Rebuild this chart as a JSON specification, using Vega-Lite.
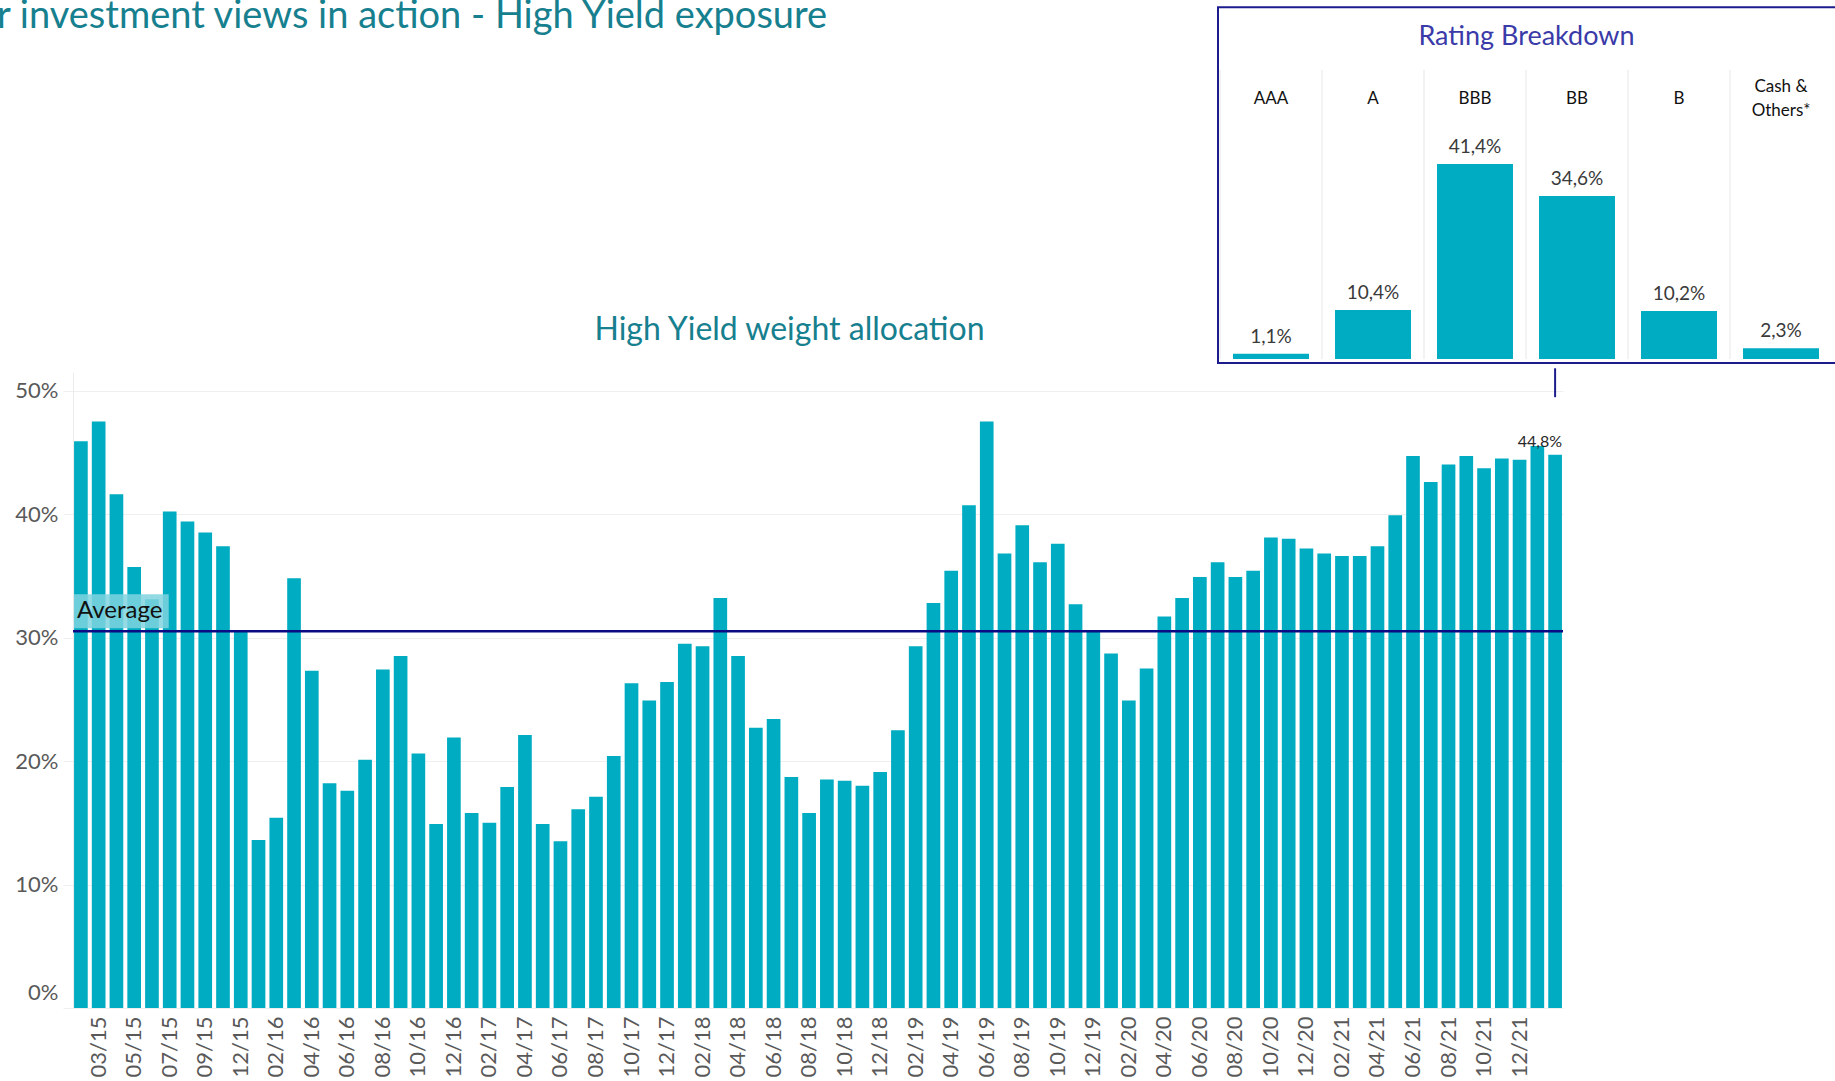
{
  "$schema": "https://vega.github.io/schema/vega-lite/v6.json",
  "width": 1490,
  "height": 636,
  "autosize": {"type": "none"},
  "padding": {"left": 73, "top": 372, "right": 272, "bottom": 73},
  "background": "white",
  "config": {
    "font": "Lato",
    "view": {"stroke": null},
    "locale": {"number": {"decimal": ",", "thousands": ".", "grouping": [3], "currency": ["", " €"]}}
  },
  "title": {
    "text": "r investment views in action - High Yield exposure",
    "anchor": "start",
    "frame": "group",
    "dx": -76,
    "offset": -30,
    "fontSize": 38,
    "fontWeight": "normal",
    "color": "#17808f"
  },
  "layer": [
    {
      "data": {"values": [
        {"m": "02/15", "v": 0.459}, {"m": "03/15", "v": 0.475}, {"m": "04/15", "v": 0.416}, {"m": "05/15", "v": 0.357},
        {"m": "06/15", "v": 0.331}, {"m": "07/15", "v": 0.402}, {"m": "08/15", "v": 0.394}, {"m": "09/15", "v": 0.385},
        {"m": "10/15", "v": 0.374}, {"m": "12/15", "v": 0.305}, {"m": "01/16", "v": 0.136}, {"m": "02/16", "v": 0.154},
        {"m": "03/16", "v": 0.348}, {"m": "04/16", "v": 0.273}, {"m": "05/16", "v": 0.182}, {"m": "06/16", "v": 0.176},
        {"m": "07/16", "v": 0.201}, {"m": "08/16", "v": 0.274}, {"m": "09/16", "v": 0.285}, {"m": "10/16", "v": 0.206},
        {"m": "11/16", "v": 0.149}, {"m": "12/16", "v": 0.219}, {"m": "01/17", "v": 0.158}, {"m": "02/17", "v": 0.150},
        {"m": "03/17", "v": 0.179}, {"m": "04/17", "v": 0.221}, {"m": "05/17", "v": 0.149}, {"m": "06/17", "v": 0.135},
        {"m": "07/17", "v": 0.161}, {"m": "08/17", "v": 0.171}, {"m": "09/17", "v": 0.204}, {"m": "10/17", "v": 0.263},
        {"m": "11/17", "v": 0.249}, {"m": "12/17", "v": 0.264}, {"m": "01/18", "v": 0.295}, {"m": "02/18", "v": 0.293},
        {"m": "03/18", "v": 0.332}, {"m": "04/18", "v": 0.285}, {"m": "05/18", "v": 0.227}, {"m": "06/18", "v": 0.234},
        {"m": "07/18", "v": 0.187}, {"m": "08/18", "v": 0.158}, {"m": "09/18", "v": 0.185}, {"m": "10/18", "v": 0.184},
        {"m": "11/18", "v": 0.180}, {"m": "12/18", "v": 0.191}, {"m": "01/19", "v": 0.225}, {"m": "02/19", "v": 0.293},
        {"m": "03/19", "v": 0.328}, {"m": "04/19", "v": 0.354}, {"m": "05/19", "v": 0.407}, {"m": "06/19", "v": 0.475},
        {"m": "07/19", "v": 0.368}, {"m": "08/19", "v": 0.391}, {"m": "09/19", "v": 0.361}, {"m": "10/19", "v": 0.376},
        {"m": "11/19", "v": 0.327}, {"m": "12/19", "v": 0.305}, {"m": "01/20", "v": 0.287}, {"m": "02/20", "v": 0.249},
        {"m": "03/20", "v": 0.275}, {"m": "04/20", "v": 0.317}, {"m": "05/20", "v": 0.332}, {"m": "06/20", "v": 0.349},
        {"m": "07/20", "v": 0.361}, {"m": "08/20", "v": 0.349}, {"m": "09/20", "v": 0.354}, {"m": "10/20", "v": 0.381},
        {"m": "11/20", "v": 0.380}, {"m": "12/20", "v": 0.372}, {"m": "01/21", "v": 0.368}, {"m": "02/21", "v": 0.366},
        {"m": "03/21", "v": 0.366}, {"m": "04/21", "v": 0.374}, {"m": "05/21", "v": 0.399}, {"m": "06/21", "v": 0.447},
        {"m": "07/21", "v": 0.426}, {"m": "08/21", "v": 0.440}, {"m": "09/21", "v": 0.447}, {"m": "10/21", "v": 0.437},
        {"m": "11/21", "v": 0.445}, {"m": "12/21", "v": 0.444}, {"m": "01/22", "v": 0.455}, {"m": "02/22", "v": 0.448}
      ]},
      "resolve": {"axis": {"x": "independent", "y": "independent"}},
      "layer": [
        {
          "mark": {"type": "bar", "color": "#00acc1"},
          "encoding": {
            "x": {
              "field": "m", "type": "nominal", "sort": null,
              "scale": {
                "domain": ["02/15","03/15","04/15","05/15","06/15","07/15","08/15","09/15","10/15","12/15",
                  "01/16","02/16","03/16","04/16","05/16","06/16","07/16","08/16","09/16","10/16","11/16","12/16",
                  "01/17","02/17","03/17","04/17","05/17","06/17","07/17","08/17","09/17","10/17","11/17","12/17",
                  "01/18","02/18","03/18","04/18","05/18","06/18","07/18","08/18","09/18","10/18","11/18","12/18",
                  "01/19","02/19","03/19","04/19","05/19","06/19","07/19","08/19","09/19","10/19","11/19","12/19",
                  "01/20","02/20","03/20","04/20","05/20","06/20","07/20","08/20","09/20","10/20","11/20","12/20",
                  "01/21","02/21","03/21","04/21","05/21","06/21","07/21","08/21","09/21","10/21","11/21","12/21",
                  "01/22","02/22"],
                "paddingInner": 0.23, "paddingOuter": 0.06
              },
              "axis": {
                "values": ["03/15","05/15","07/15","09/15","12/15","02/16","04/16","06/16","08/16","10/16","12/16",
                  "02/17","04/17","06/17","08/17","10/17","12/17","02/18","04/18","06/18","08/18","10/18","12/18",
                  "02/19","04/19","06/19","08/19","10/19","12/19","02/20","04/20","06/20","08/20","10/20","12/20",
                  "02/21","04/21","06/21","08/21","10/21","12/21"],
                "title": null, "labelAngle": -90, "labelFontSize": 22, "labelColor": "#595959",
                "labelPadding": 8, "ticks": false, "tickSize": 0, "domain": false, "grid": false, "labelOverlap": false
              }
            },
            "y": {
              "field": "v", "type": "quantitative",
              "scale": {"domain": [0, 0.515], "nice": false},
              "axis": {
                "values": [0, 0.1, 0.2, 0.3, 0.4, 0.5], "format": ".0%", "title": null,
                "grid": true, "gridColor": "#efefef", "tickColor": "#efefef", "tickSize": 10,
                "domainColor": "#ebebeb", "labelFontSize": 22, "labelColor": "#595959", "labelPadding": 5,
                "labelOffset": {"condition": {"test": "datum.value === 0", "value": -16}, "value": 0}
              }
            }
          }
        },
        {
          "mark": {"type": "rule", "color": "#0b0b83", "strokeWidth": 2.5},
          "encoding": {"y": {"aggregate": "mean", "field": "v", "type": "quantitative", "axis": null}}
        },
        {
          "transform": [{"filter": "datum.m === '02/22'"}],
          "mark": {"type": "text", "align": "right", "baseline": "alphabetic", "dx": 7, "dy": -8, "fontSize": 16, "color": "#262626"},
          "encoding": {
            "x": {"field": "m", "type": "nominal",
              "axis": {"orient": "top", "title": "High Yield weight allocation", "labels": false, "ticks": false, "tickSize": 0,
                "domain": false, "grid": false, "titleFontSize": 32, "titleColor": "#17808f", "titleFontWeight": "normal",
                "titlePadding": 26, "titleX": 716}},
            "y": {"field": "v", "type": "quantitative", "axis": null},
            "text": {"field": "v", "type": "quantitative", "format": ".1%"}
          }
        },
        {
          "data": {"values": [{"label": "Average"}]},
          "layer": [
            {
              "mark": {"type": "rect", "color": "#80d4df", "opacity": 0.85, "xOffset": -7, "x2Offset": -1},
              "encoding": {
                "x": {"datum": "02/15", "axis": null},
                "x2": {"datum": "07/15"},
                "y": {"datum": 0.3075, "axis": null},
                "y2": {"datum": 0.335}
              }
            },
            {
              "mark": {"type": "text", "align": "left", "baseline": "alphabetic", "dx": -4, "fontSize": 24, "color": "#111111"},
              "encoding": {
                "x": {"datum": "02/15", "axis": null},
                "y": {"datum": 0.316, "axis": null},
                "text": {"field": "label"}
              }
            },
            {
              "mark": {"type": "rule", "color": "#1c1c8c", "strokeWidth": 2},
              "encoding": {
                "x": {"datum": "02/22", "axis": null},
                "y": {"datum": 0.4946, "axis": null},
                "y2": {"datum": 0.518}
              }
            }
          ]
        }
      ]
    },
    {
      "data": {"values": [
        {"r": "AAA", "w": 0.011}, {"r": "A", "w": 0.104}, {"r": "BBB", "w": 0.414},
        {"r": "BB", "w": 0.346}, {"r": "B", "w": 0.102}, {"r": "Cash & Others*", "w": 0.023}
      ]},
      "layer": [
        {
          "mark": {"type": "rule", "color": "#efefef", "strokeWidth": 1.5, "xOffset": -51},
          "encoding": {
            "x": {
              "field": "r", "type": "nominal", "sort": null,
              "scale": {"domain": ["AAA", "A", "BBB", "BB", "B", "Cash & Others*"], "range": [1147, 1759], "paddingInner": 0.255, "paddingOuter": 0.1275},
              "axis": {
                "orient": "top", "offset": 260, "title": "Rating Breakdown",
                "labelExpr": "datum.value === 'Cash & Others*' ? ['Cash &', 'Others*'] : datum.value",
                "labelAngle": 0, "labelBaseline": "middle", "labelFontSize": 17,
                "labelPadding": {"condition": {"test": "datum.value === 'Cash & Others*'", "value": 26}, "value": 14},
                "labelColor": "#111111", "labelLineHeight": 24, "ticks": false, "tickSize": 0, "domain": false,
                "grid": false, "titleFontSize": 27, "titleColor": "#3a3aa8", "titleFontWeight": "normal", "titlePadding": 27
              }
            },
            "y": {
              "datum": 0,
              "scale": {"domain": [0, 0.75], "range": [-13, -366.25], "nice": false},
              "axis": null
            },
            "y2": {"datum": 0.614}
          }
        },
        {
          "mark": {"type": "bar", "color": "#00acc1"},
          "encoding": {
            "x": {"field": "r", "type": "nominal", "sort": null},
            "y": {"field": "w", "type": "quantitative"}
          }
        },
        {
          "mark": {"type": "text", "baseline": "alphabetic", "dy": -11, "fontSize": 19, "color": "#3a3a3a"},
          "encoding": {
            "x": {"field": "r", "type": "nominal", "sort": null},
            "y": {"field": "w", "type": "quantitative"},
            "text": {"field": "w", "type": "quantitative", "format": ".1%"}
          }
        },
        {
          "data": {"values": [{"box": "Rating Breakdown"}]},
          "mark": {"type": "rect", "fillOpacity": 0, "fill": "white", "stroke": "#1c1c8c", "strokeWidth": 2, "xOffset": -53, "x2Offset": 120},
          "encoding": {
            "x": {"datum": "AAA"},
            "x2": {"datum": "Cash & Others*"},
            "y": {"datum": -0.0085},
            "y2": {"datum": 0.747}
          }
        }
      ]
    }
  ],
  "resolve": {"scale": {"x": "independent", "y": "independent"}}
}
